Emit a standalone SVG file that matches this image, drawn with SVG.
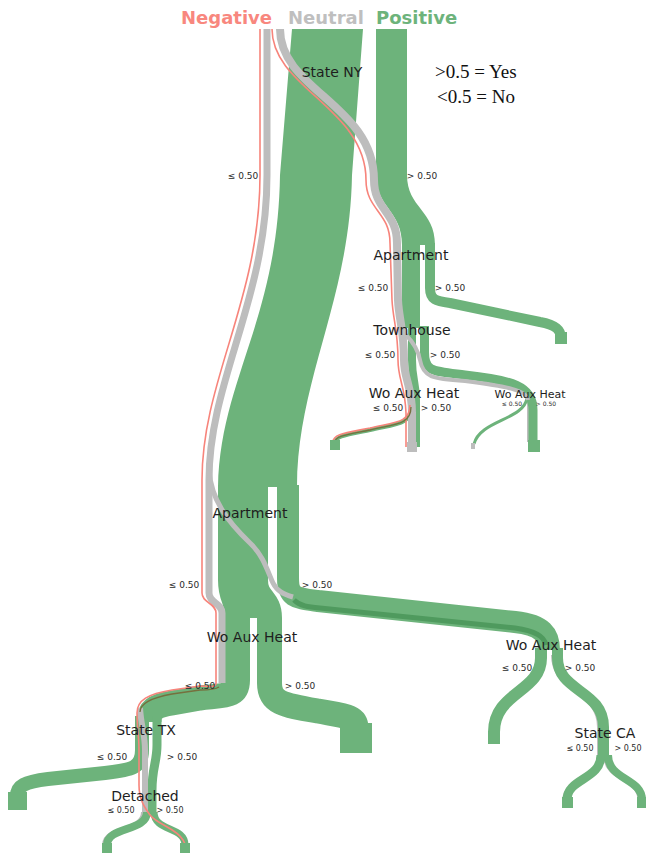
<svg xmlns="http://www.w3.org/2000/svg" width="646" height="855" viewBox="0 0 646 855">
<style>
.g{fill:none;stroke:#6db37b;stroke-linecap:butt;stroke-linejoin:round}
.gf{fill:#6db37b}
.n{fill:none;stroke:#bdbdbd;stroke-linejoin:round}
.nf{fill:#bdbdbd}
.r{fill:none;stroke:#f7847b;stroke-width:1.6}
.dk{fill:none;stroke:#4f9a5e}
.ol{fill:none;stroke:#76703e;stroke-width:1.3}
.lbl{font-family:"DejaVu Sans",sans-serif;font-size:14px;fill:#1e1e1e;text-anchor:middle}
.sm{font-family:"DejaVu Sans",sans-serif;font-size:9px;fill:#2a2a2a;text-anchor:middle}
.hd{font-family:"DejaVu Sans",sans-serif;font-size:18px;font-weight:bold}
.lg{font-family:"Liberation Serif","Times New Roman",serif;font-size:19px;fill:#111}
</style>
<rect width="646" height="855" fill="#ffffff"/>

<g id="connectors">
  <!-- shadows drawn beneath green -->
  <path class="n" stroke-width="4" d="M 553 655 C 553 692 599 690 599 727 L 599 757"/>
  <path class="n" stroke-width="3" d="M 598 757 C 598 780 564 778 564 800"/>
  <path class="n" stroke-width="3" d="M 605 757 C 605 780 639 778 639 800"/>
  <path class="n" stroke-width="4" d="M 143 812 C 143 832 104 826 104 845"/>
  <path class="n" stroke-width="3" d="M 528.5 400 L 528.5 442"/>

  <!-- green flows -->
  <path class="gf" d="M 292 29 L 363 29 L 352 175 C 350 300 297 380 297 487 L 218 487 C 220 380 278 320 280 175 Z"/>
  <path class="gf" d="M 376 29 L 407 29 L 407 175 C 407 208 435 210 435 245 L 402 245 C 402 210 376 208 376 175 Z"/>
  <path class="g" stroke-width="18" d="M 411 243 L 411 328"/>
  <path class="g" stroke-width="8" d="M 412 326 L 412 360 C 412 380 416 382 416 400 L 416 412"/>
  <path class="g" stroke-width="9" d="M 424.5 326 L 424.5 352 C 424.5 372 432 371 465 375 C 512 380 533 386 533 410 L 533 442"/>
  <path class="g" stroke-width="10" d="M 430 243 L 430 288 C 430 300 436 301 450 303 L 540 322 C 556 325 561 330 561 338"/>
  <path class="g" stroke-width="4" d="M 412 405 C 412 425 395 424 370 430 C 345 435 335 436 335 444"/>
  <path class="g" stroke-width="4" d="M 418 405 L 418 447"/>
  <path class="g" stroke-width="3" d="M 527 398 C 524 420 480 420 474 444"/>

  <path class="g" stroke-width="25" d="M 230.5 485 L 230.5 580 C 230.5 600 237.5 598 237.5 618 L 237.5 680 C 237.5 697 226 695 200 698 L 172 703 C 154 706 149 710 149 722"/>
  <path class="g" stroke-width="25" d="M 255.5 485 L 255.5 580 C 255.5 600 269.5 598 269.5 618 L 269.5 683 C 269.5 703 283 705 318 711 C 345 716 356 716 356 728"/>
  <rect class="gf" x="241" y="575" width="21" height="43"/>
  <path class="g" stroke-width="14" d="M 142 716 L 142 750 C 142 768 132 770 105 773 L 48 779 C 24 782 17 786 17 796"/>
  <path class="g" stroke-width="9" d="M 157 716 L 157 745 C 157 762 152 768 152 790 L 152 814"/>
  <path class="g" stroke-width="8" d="M 147 812 C 147 832 107 826 107 845"/>
  <path class="g" stroke-width="7" d="M 154 812 C 154 832 185 826 185 845"/>

  <path class="g" stroke-width="22" d="M 288 485 L 288 578 C 288 598 296 598 318 601 L 515 622 C 543 625 549 635 549 650"/>
  <path class="dk" stroke-width="5" d="M 294 600 C 300 606 308 607 320 608 L 515 628 C 535 631 544 636 546 645"/>
  <path class="g" stroke-width="12" d="M 541 648 L 541 658 C 541 692 494 692 494 732"/>
  <path class="g" stroke-width="11" d="M 557.5 648 L 557.5 658 C 557.5 692 603.5 690 603.5 727 L 603.5 757"/>
  <path class="g" stroke-width="9" d="M 601 755 C 601 780 567 778 567 800"/>
  <path class="g" stroke-width="8" d="M 608 755 C 608 780 642 778 642 800"/>

  <!-- neutral flows -->
  <path class="n" stroke-width="7" d="M 267 29 L 267 175 C 267 300 209 380 209 480 L 209 593 C 209 603 222 603 222 613 L 222 683"/>
  <path class="n" stroke-width="5" d="M 209 470 C 211 500 228 522 250 543 C 264 556 268 573 273 583 C 277 591 283 594 293 597"/>
  <path class="n" stroke-width="6" d="M 140 708 C 141 725 145 735 145 750 L 145 812"/>
  <path class="n" stroke-width="8" d="M 280 29 C 280 90 374 105 374 180 C 374 210 397 212 397 243 L 398 300 C 399 320 404 330 404 360 C 404 380 412 385 412 413 L 412 443"/>
  <path class="n" stroke-width="4" d="M 406 335 C 414 343 418 350 420 360 C 423 377 432 379 465 381 C 505 386 527 390 528 400"/>

  <!-- negative flows -->
  <path class="r" d="M 260 29 L 260 175 C 260 300 202 380 202 480 L 202 593 C 202 603 216 603 216 613 L 216 683 C 216 688 209 686 200 686 L 172 690 C 148 694 137 700 137 713 C 137 728 139 735 139 750 L 139 785 C 139 800 145 808 150 815 C 158 825 176 828 183 840 L 186 846"/>
  <path class="ol" d="M 219 687 C 215 690 208 690 200 690 L 172 694 C 150 698 140 704 140 712"/>
  <path class="r" d="M 272 29 C 272 88 366 108 366 180 C 366 210 390 212 390 243 L 392 300 C 393 320 398 330 398 360 C 398 380 405 385 406 413 L 406 447"/>
  <path class="r" stroke-width="1.5" d="M 410 405 C 410 423 395 422 370 428 C 345 433 333 434 333 442"/>
  <path class="ol" stroke-width="1" d="M 411 407 C 411 425 395 424 370 430 C 346 435 335 436 335 442"/>
</g>

<g id="leaf-apartment-yes"><rect class="gf" x="555" y="332" width="12" height="12"/></g>
<g id="leaf-waux1-no"><rect class="gf" x="330" y="440" width="10" height="10"/></g>
<g id="leaf-waux1-yes"><rect class="nf" x="407" y="442" width="10" height="10"/></g>
<g id="leaf-waux2-no"><rect class="nf" x="471" y="443" width="4" height="6"/></g>
<g id="leaf-waux2-yes"><rect class="gf" x="528" y="440" width="12" height="12"/></g>
<g id="leaf-waux3-yes"><rect class="gf" x="340" y="723" width="32" height="30"/></g>
<g id="leaf-tx-no"><rect class="gf" x="8" y="792" width="19" height="18"/></g>
<g id="leaf-detached-no"><rect class="gf" x="102" y="843" width="10" height="10"/></g>
<g id="leaf-detached-yes"><rect class="gf" x="180" y="843" width="10" height="10"/></g>
<g id="leaf-waux4-no"><rect class="gf" x="488" y="731" width="12" height="13"/></g>
<g id="leaf-ca-no"><rect class="gf" x="562" y="797" width="11" height="11"/></g>
<g id="leaf-ca-yes"><rect class="gf" x="637" y="797" width="10" height="11"/></g>

<g id="node-state-ny">
  <text class="lbl" x="332" y="77">State NY</text>
  <text class="sm" x="243" y="179">≤ 0.50</text>
  <text class="sm" x="422" y="179">&gt; 0.50</text>
</g>
<g id="node-apartment-1">
  <text class="lbl" x="411" y="260">Apartment</text>
  <text class="sm" x="373" y="291">≤ 0.50</text>
  <text class="sm" x="450" y="291">&gt; 0.50</text>
</g>
<g id="node-townhouse">
  <text class="lbl" x="412" y="335">Townhouse</text>
  <text class="sm" x="380" y="358">≤ 0.50</text>
  <text class="sm" x="445" y="358">&gt; 0.50</text>
</g>
<g id="node-waux-1">
  <text class="lbl" x="414" y="398">Wo Aux Heat</text>
  <text class="sm" x="388" y="411">≤ 0.50</text>
  <text class="sm" x="436" y="411">&gt; 0.50</text>
</g>
<g id="node-waux-2">
  <text class="lbl" x="530" y="398" style="font-size:11px">Wo Aux Heat</text>
  <text class="sm" x="512" y="406" style="font-size:6px">≤ 0.50</text>
  <text class="sm" x="546" y="406" style="font-size:6px">&gt; 0.50</text>
</g>
<g id="node-apartment-2">
  <text class="lbl" x="250" y="518">Apartment</text>
  <text class="sm" x="184" y="588">≤ 0.50</text>
  <text class="sm" x="317" y="588">&gt; 0.50</text>
</g>
<g id="node-waux-3">
  <text class="lbl" x="252" y="642">Wo Aux Heat</text>
  <text class="sm" x="200" y="689">≤ 0.50</text>
  <text class="sm" x="300" y="689">&gt; 0.50</text>
</g>
<g id="node-state-tx">
  <text class="lbl" x="146" y="735">State TX</text>
  <text class="sm" x="112" y="760">≤ 0.50</text>
  <text class="sm" x="182" y="760">&gt; 0.50</text>
</g>
<g id="node-detached">
  <text class="lbl" x="145" y="801">Detached</text>
  <text class="sm" x="121" y="813" style="font-size:8px">≤ 0.50</text>
  <text class="sm" x="170" y="813" style="font-size:8px">&gt; 0.50</text>
</g>
<g id="node-waux-4">
  <text class="lbl" x="551" y="650">Wo Aux Heat</text>
  <text class="sm" x="517" y="671">≤ 0.50</text>
  <text class="sm" x="580" y="671">&gt; 0.50</text>
</g>
<g id="node-state-ca">
  <text class="lbl" x="605" y="738">State CA</text>
  <text class="sm" x="580" y="751" style="font-size:8px">≤ 0.50</text>
  <text class="sm" x="628" y="751" style="font-size:8px">&gt; 0.50</text>
</g>

<g id="legend">
  <text class="hd" x="181" y="24" fill="#f8877e">Negative</text>
  <text class="hd" x="288" y="24" fill="#bfbfbf">Neutral</text>
  <text class="hd" x="376" y="24" fill="#6db37b">Positive</text>
  <text class="lg" x="435" y="78">&gt;0.5 = Yes</text>
  <text class="lg" x="437" y="103">&lt;0.5 = No</text>
</g>
</svg>
